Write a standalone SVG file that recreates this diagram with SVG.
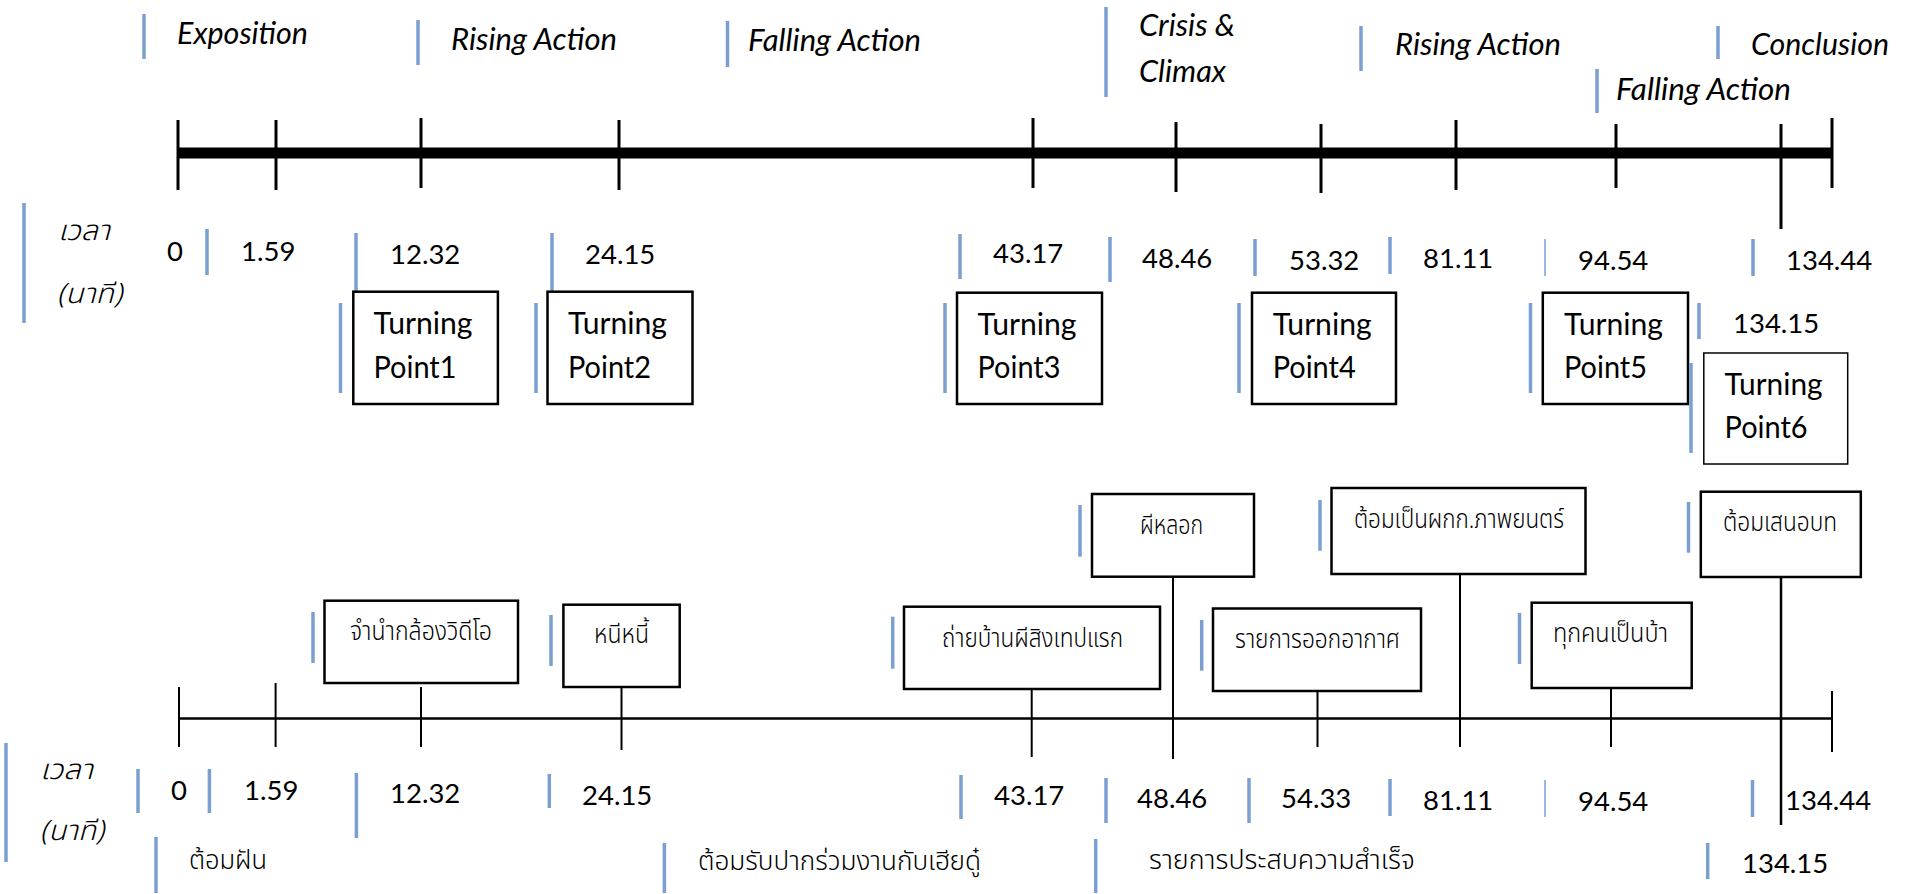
<svg xmlns="http://www.w3.org/2000/svg" width="1909" height="894" viewBox="0 0 1909 894">
<style>
.bar{stroke:#7b9fd0;stroke-width:3.5;fill:none}
.bart{stroke:#7b9fd0;stroke-width:1.5;fill:none}
.tk{stroke:#000;stroke-width:3;fill:none}
.tk2{stroke:#000;stroke-width:2;fill:none}
.box{fill:#fff;stroke:#000;stroke-width:2.5}
.box2{fill:#fff;stroke:#000;stroke-width:1.5}
.lbl{font-family:Lato,'Liberation Sans',sans-serif;font-style:italic;font-size:30px;fill:#000}
.num{font-family:Lato,'Liberation Sans',sans-serif;font-size:27.5px;fill:#000}
.tp{font-family:Lato,'Liberation Sans',sans-serif;font-size:30px;fill:#000}
.th{font-family:'Noto Sans Thai','Noto Sans Thai UI','Noto Sans','DejaVu Sans',sans-serif;font-size:26px;font-weight:300;fill:#000}
.thi{font-family:'Noto Sans Thai','Noto Sans Thai UI','Noto Sans','DejaVu Sans',sans-serif;font-size:28px;font-weight:300;font-style:italic;fill:#000}
</style>
<rect width="1909" height="894" fill="#fff"/>

<g id="connectors">
  <line x1="179" y1="153" x2="1832" y2="153" stroke="#000" stroke-width="11"/>
  <line class="tk" x1="178" y1="120" x2="178" y2="190"/>
  <line class="tk" x1="276" y1="120" x2="276" y2="190"/>
  <line class="tk" x1="421" y1="118" x2="421" y2="188"/>
  <line class="tk" x1="619" y1="120" x2="619" y2="190"/>
  <line class="tk" x1="1033" y1="118" x2="1033" y2="188"/>
  <line class="tk" x1="1176" y1="122" x2="1176" y2="192"/>
  <line class="tk" x1="1321" y1="124" x2="1321" y2="193"/>
  <line class="tk" x1="1456" y1="120" x2="1456" y2="190"/>
  <line class="tk" x1="1616" y1="124" x2="1616" y2="188"/>
  <line class="tk" x1="1781" y1="124" x2="1781" y2="229"/>
  <line class="tk" x1="1832" y1="118" x2="1832" y2="188"/>

  <line x1="179" y1="718.5" x2="1832" y2="718.5" stroke="#000" stroke-width="2.5"/>
  <line class="tk2" x1="179" y1="687" x2="179" y2="747"/>
  <line class="tk2" x1="275.6" y1="683" x2="275.6" y2="747"/>
  <line class="tk2" x1="421" y1="687" x2="421" y2="747"/>
  <line class="tk2" x1="621.5" y1="687" x2="621.5" y2="750"/>
  <line class="tk2" x1="1031.7" y1="689" x2="1031.7" y2="757"/>
  <line class="tk2" x1="1173" y1="577" x2="1173" y2="759"/>
  <line class="tk2" x1="1317.5" y1="691" x2="1317.5" y2="747"/>
  <line class="tk2" x1="1460" y1="575" x2="1460" y2="747"/>
  <line class="tk2" x1="1611" y1="688" x2="1611" y2="747"/>
  <line x1="1781" y1="577" x2="1781" y2="825" stroke="#000" stroke-width="2.5"/>
  <line class="tk2" x1="1832" y1="691" x2="1832" y2="752"/>
</g>

<g id="phase-labels">
  <g id="lbl-exposition"><line class="bar" x1="144" y1="14" x2="144" y2="59"/><text class="lbl" x="177" y="44" textLength="131" lengthAdjust="spacingAndGlyphs">Exposition</text></g>
  <g id="lbl-rising1"><line class="bar" x1="418" y1="20" x2="418" y2="65"/><text class="lbl" x="451" y="50" textLength="166" lengthAdjust="spacingAndGlyphs">Rising Action</text></g>
  <g id="lbl-falling1"><line class="bar" x1="727.5" y1="21" x2="727.5" y2="67"/><text class="lbl" x="748" y="51" textLength="173" lengthAdjust="spacingAndGlyphs">Falling Action</text></g>
  <g id="lbl-crisis"><line class="bar" x1="1106" y1="7" x2="1106" y2="97"/><text class="lbl" x="1139" y="36" textLength="96" lengthAdjust="spacingAndGlyphs">Crisis &amp;</text><text class="lbl" x="1139" y="82" textLength="87" lengthAdjust="spacingAndGlyphs">Climax</text></g>
  <g id="lbl-rising2"><line class="bar" x1="1361" y1="26" x2="1361" y2="71"/><text class="lbl" x="1395" y="55" textLength="166" lengthAdjust="spacingAndGlyphs">Rising Action</text></g>
  <g id="lbl-conclusion"><line class="bar" x1="1718" y1="26" x2="1718" y2="59"/><text class="lbl" x="1751" y="55" textLength="138" lengthAdjust="spacingAndGlyphs">Conclusion</text></g>
  <g id="lbl-falling2"><line class="bar" x1="1597" y1="69" x2="1597" y2="113"/><text class="lbl" x="1616" y="100" textLength="175" lengthAdjust="spacingAndGlyphs">Falling Action</text></g>
</g>

<g id="upper-times">
  <g id="u-unit"><line class="bar" x1="24" y1="203" x2="24" y2="323"/><text class="thi" x="58" y="240" textLength="52" lengthAdjust="spacingAndGlyphs">เวลา</text><text class="thi" x="57" y="303" textLength="65" lengthAdjust="spacingAndGlyphs">(นาที)</text></g>
  <g id="u-0"><text class="num" x="167" y="261">0</text></g>
  <g id="u-1-59"><line class="bar" x1="207" y1="229" x2="207" y2="275"/><text class="num" x="241" y="261">1.59</text></g>
  <g id="u-12-32"><line class="bar" x1="356" y1="233" x2="356" y2="291"/><text class="num" x="390" y="264">12.32</text></g>
  <g id="u-24-15"><line class="bar" x1="552" y1="233" x2="552" y2="291"/><text class="num" x="585" y="264">24.15</text></g>
  <g id="u-43-17"><line class="bar" x1="960" y1="234" x2="960" y2="279"/><text class="num" x="993" y="263">43.17</text></g>
  <g id="u-48-46"><line class="bar" x1="1110" y1="237" x2="1110" y2="282"/><text class="num" x="1142" y="268">48.46</text></g>
  <g id="u-53-32"><line class="bar" x1="1255" y1="239" x2="1255" y2="276"/><text class="num" x="1289" y="270">53.32</text></g>
  <g id="u-81-11"><line class="bar" x1="1390" y1="237" x2="1390" y2="274"/><text class="num" x="1423" y="268">81.11</text></g>
  <g id="u-94-54"><line class="bart" x1="1545" y1="239" x2="1545" y2="276"/><text class="num" x="1578" y="270">94.54</text></g>
  <g id="u-134-44"><line class="bar" x1="1753" y1="239" x2="1753" y2="276"/><text class="num" x="1786" y="270">134.44</text></g>
  <g id="u-134-15"><line class="bar" x1="1699" y1="303" x2="1699" y2="339"/><text class="num" x="1733" y="333">134.15</text></g>
</g>

<g id="turning-points">
  <g id="tp1"><line class="bar" x1="340.5" y1="303" x2="340.5" y2="393"/><rect class="box" x="353.3" y="291.7" width="144.6" height="112.3"/><text class="tp" x="373.5" y="334" textLength="99" lengthAdjust="spacingAndGlyphs">Turning</text><text class="tp" x="373.5" y="378" textLength="83" lengthAdjust="spacingAndGlyphs">Point1</text></g>
  <g id="tp2"><line class="bar" x1="536" y1="303" x2="536" y2="393"/><rect class="box" x="547.5" y="291.7" width="145" height="112.3"/><text class="tp" x="568" y="334" textLength="99" lengthAdjust="spacingAndGlyphs">Turning</text><text class="tp" x="568" y="378" textLength="83" lengthAdjust="spacingAndGlyphs">Point2</text></g>
  <g id="tp3"><line class="bar" x1="945" y1="303" x2="945" y2="393"/><rect class="box" x="957" y="292.7" width="145" height="111.3"/><text class="tp" x="977.5" y="335" textLength="99" lengthAdjust="spacingAndGlyphs">Turning</text><text class="tp" x="977.5" y="378" textLength="83" lengthAdjust="spacingAndGlyphs">Point3</text></g>
  <g id="tp4"><line class="bar" x1="1239" y1="303" x2="1239" y2="393"/><rect class="box" x="1252" y="292.7" width="144" height="111.3"/><text class="tp" x="1272.7" y="335" textLength="99" lengthAdjust="spacingAndGlyphs">Turning</text><text class="tp" x="1272.7" y="378" textLength="83" lengthAdjust="spacingAndGlyphs">Point4</text></g>
  <g id="tp5"><line class="bar" x1="1530.5" y1="303" x2="1530.5" y2="393"/><rect class="box" x="1542.8" y="292.7" width="145.2" height="111.3"/><text class="tp" x="1564" y="335" textLength="99" lengthAdjust="spacingAndGlyphs">Turning</text><text class="tp" x="1564" y="378" textLength="83" lengthAdjust="spacingAndGlyphs">Point5</text></g>
  <g id="tp6"><line class="bar" x1="1691" y1="363" x2="1691" y2="453"/><rect class="box2" x="1703.8" y="353" width="143.9" height="111"/><text class="tp" x="1724.6" y="395" textLength="98" lengthAdjust="spacingAndGlyphs">Turning</text><text class="tp" x="1724.6" y="438" textLength="83" lengthAdjust="spacingAndGlyphs">Point6</text></g>
</g>

<g id="events">
  <g id="ev-pawn"><line class="bar" x1="313" y1="612" x2="313" y2="663"/><rect class="box" x="324.5" y="600.7" width="193.5" height="82.3"/><text class="th" x="350" y="640" textLength="142" lengthAdjust="spacingAndGlyphs">จำนำกล้องวิดีโอ</text></g>
  <g id="ev-debt"><line class="bar" x1="551" y1="615" x2="551" y2="666"/><rect class="box" x="563.4" y="604.7" width="116.3" height="82.3"/><text class="th" x="594" y="643" textLength="55" lengthAdjust="spacingAndGlyphs">หนีหนี้</text></g>
  <g id="ev-shoot"><line class="bar" x1="892.7" y1="616.7" x2="892.7" y2="668.7"/><rect class="box" x="904" y="606.7" width="256" height="82.3"/><text class="th" x="942" y="647" textLength="181" lengthAdjust="spacingAndGlyphs">ถ่ายบ้านผีสิงเทปแรก</text></g>
  <g id="ev-ghost"><line class="bar" x1="1080" y1="505" x2="1080" y2="556.7"/><rect class="box" x="1092" y="494" width="162" height="82.7"/><text class="th" x="1140" y="534" textLength="63" lengthAdjust="spacingAndGlyphs">ผีหลอก</text></g>
  <g id="ev-broadcast"><line class="bar" x1="1201.7" y1="620" x2="1201.7" y2="670.7"/><rect class="box" x="1213" y="608.5" width="208" height="82.5"/><text class="th" x="1235" y="648" textLength="165" lengthAdjust="spacingAndGlyphs">รายการออกอากาศ</text></g>
  <g id="ev-director"><line class="bar" x1="1320" y1="500" x2="1320" y2="550.7"/><rect class="box" x="1331.5" y="488" width="254" height="86"/><text class="th" x="1354" y="528" textLength="210" lengthAdjust="spacingAndGlyphs">ต้อมเป็นผกก.ภาพยนตร์</text></g>
  <g id="ev-crazy"><line class="bar" x1="1519.5" y1="613" x2="1519.5" y2="664"/><rect class="box" x="1531.7" y="602.7" width="160" height="85.3"/><text class="th" x="1553" y="642" textLength="115" lengthAdjust="spacingAndGlyphs">ทุกคนเป็นบ้า</text></g>
  <g id="ev-pitch"><line class="bar" x1="1688.5" y1="502" x2="1688.5" y2="552.7"/><rect class="box" x="1700.8" y="491.7" width="160" height="85.3"/><text class="th" x="1723" y="531" textLength="114" lengthAdjust="spacingAndGlyphs">ต้อมเสนอบท</text></g>
</g>

<g id="lower-times">
  <g id="l-unit"><line class="bar" x1="6" y1="743" x2="6" y2="862"/><text class="thi" x="40" y="779" textLength="53" lengthAdjust="spacingAndGlyphs">เวลา</text><text class="thi" x="40" y="840" textLength="64" lengthAdjust="spacingAndGlyphs">(นาที)</text></g>
  <g id="l-0"><line class="bar" x1="138" y1="769" x2="138" y2="813"/><text class="num" x="171" y="800">0</text></g>
  <g id="l-1-59"><line class="bar" x1="209.4" y1="769" x2="209.4" y2="813"/><text class="num" x="244" y="800">1.59</text></g>
  <g id="l-12-32"><line class="bar" x1="356.4" y1="773" x2="356.4" y2="838"/><text class="num" x="390" y="803">12.32</text></g>
  <g id="l-24-15"><line class="bar" x1="549.3" y1="774" x2="549.3" y2="808"/><text class="num" x="582" y="805">24.15</text></g>
  <g id="l-43-17"><line class="bar" x1="961" y1="775" x2="961" y2="819"/><text class="num" x="994" y="805">43.17</text></g>
  <g id="l-48-46"><line class="bar" x1="1106" y1="778" x2="1106" y2="823"/><text class="num" x="1137" y="808">48.46</text></g>
  <g id="l-54-33"><line class="bar" x1="1249" y1="778" x2="1249" y2="823"/><text class="num" x="1281" y="808">54.33</text></g>
  <g id="l-81-11"><line class="bar" x1="1390" y1="779" x2="1390" y2="816"/><text class="num" x="1423" y="810">81.11</text></g>
  <g id="l-94-54"><line class="bart" x1="1545" y1="780" x2="1545" y2="817"/><text class="num" x="1578" y="811">94.54</text></g>
  <g id="l-134-44"><line class="bar" x1="1752.5" y1="780" x2="1752.5" y2="817"/><text class="num" x="1785" y="810">134.44</text></g>
  <g id="l-134-15"><line class="bar" x1="1707.7" y1="843" x2="1707.7" y2="879"/><text class="num" x="1742" y="873">134.15</text></g>
  <g id="l-dream"><line class="bar" x1="156" y1="837" x2="156" y2="893"/><text class="th" x="189" y="869" textLength="78" lengthAdjust="spacingAndGlyphs">ต้อมฝัน</text></g>
  <g id="l-accept"><line class="bar" x1="664.4" y1="843" x2="664.4" y2="893"/><text class="th" x="698" y="870" textLength="283" lengthAdjust="spacingAndGlyphs">ต้อมรับปากร่วมงานกับเฮียดู๋</text></g>
  <g id="l-success"><line class="bar" x1="1095.7" y1="839" x2="1095.7" y2="893"/><text class="th" x="1149" y="869" textLength="266" lengthAdjust="spacingAndGlyphs">รายการประสบความสำเร็จ</text></g>
</g>
</svg>
